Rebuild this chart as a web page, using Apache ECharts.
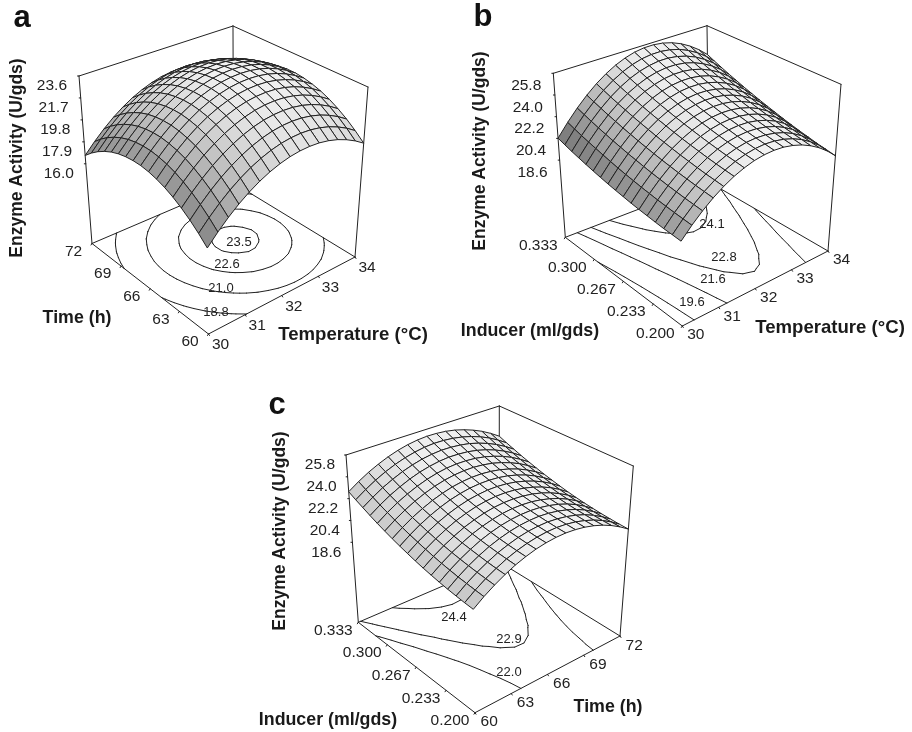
<!DOCTYPE html>
<html><head><meta charset="utf-8">
<style>html,body{margin:0;padding:0;background:#fff}#c{width:912px;height:732px}</style>
<script src="https://cdn.jsdelivr.net/npm/echarts@6/dist/echarts.min.js"></script>
</head><body><div id="c"></div>
<script>
// ---------- values ----------
const temperatureTicks = [30, 31, 32, 33, 34];
const timeTicks = [60, 63, 66, 69, 72];
const inducerTicks = [0.200, 0.233, 0.267, 0.300, 0.333];
const activityTicksA = [16.0, 17.9, 19.8, 21.7, 23.6];
const activityTicksBC = [18.6, 20.4, 22.2, 24.0, 25.8];
const contourLevelsA = [18.8, 21.0, 22.6, 23.5];
const contourLevelsB = [19.6, 21.6, 22.8, 24.1];
const contourLevelsC = [22.0, 22.9, 24.4];
// rows: time 60..72 (a), inducer 0.200..0.333 (b, c); columns: temperature 30..34 (a, b), time 60..72 (c)
const surfaceA = [
[15.93,16.81,17.60,18.30,18.90,19.41,19.82,20.14,20.37,20.50,20.54,20.49,20.34,20.10,19.76,19.33,18.81],
[16.62,17.50,18.29,18.99,19.59,20.10,20.51,20.83,21.06,21.19,21.23,21.18,21.03,20.79,20.45,20.02,19.50],
[17.23,18.11,18.90,19.60,20.20,20.71,21.12,21.44,21.67,21.80,21.84,21.79,21.64,21.40,21.06,20.63,20.11],
[17.75,18.63,19.42,20.12,20.72,21.23,21.64,21.96,22.19,22.32,22.36,22.31,22.16,21.92,21.58,21.15,20.63],
[18.19,19.07,19.86,20.56,21.16,21.67,22.08,22.40,22.63,22.76,22.80,22.75,22.60,22.36,22.02,21.59,21.07],
[18.54,19.42,20.21,20.91,21.51,22.02,22.43,22.75,22.98,23.11,23.15,23.10,22.95,22.71,22.37,21.94,21.42],
[18.80,19.68,20.47,21.17,21.77,22.28,22.69,23.01,23.24,23.37,23.41,23.36,23.21,22.97,22.63,22.20,21.68],
[18.98,19.86,20.65,21.35,21.95,22.46,22.87,23.19,23.42,23.55,23.59,23.54,23.39,23.15,22.81,22.38,21.86],
[19.08,19.96,20.75,21.45,22.05,22.56,22.97,23.29,23.52,23.65,23.69,23.64,23.49,23.25,22.91,22.48,21.96],
[19.08,19.96,20.75,21.45,22.05,22.56,22.97,23.29,23.52,23.65,23.69,23.64,23.49,23.25,22.91,22.48,21.96],
[19.00,19.88,20.67,21.37,21.97,22.48,22.89,23.21,23.44,23.57,23.61,23.56,23.41,23.17,22.83,22.40,21.88],
[18.84,19.72,20.51,21.21,21.81,22.32,22.73,23.05,23.28,23.41,23.45,23.40,23.25,23.01,22.67,22.24,21.72],
[18.59,19.47,20.26,20.96,21.56,22.07,22.48,22.80,23.03,23.16,23.20,23.15,23.00,22.76,22.42,21.99,21.47],
[18.25,19.13,19.92,20.62,21.22,21.73,22.14,22.46,22.69,22.82,22.86,22.81,22.66,22.42,22.08,21.65,21.13],
[17.83,18.71,19.50,20.20,20.80,21.31,21.72,22.04,22.27,22.40,22.44,22.39,22.24,22.00,21.66,21.23,20.71],
[17.32,18.20,18.99,19.69,20.29,20.80,21.21,21.53,21.76,21.89,21.93,21.88,21.73,21.49,21.15,20.72,20.20],
[16.72,17.60,18.39,19.09,19.69,20.20,20.61,20.93,21.16,21.29,21.33,21.28,21.13,20.89,20.55,20.12,19.60]];
// finer readings of panel a's floor, used for its small contour rings
const contourFieldA = [
[15.93,16.64,17.30,17.89,18.42,18.90,19.31,19.67,19.96,20.19,20.37,20.48,20.54,20.53,20.46,20.34,20.15,19.91,19.60,19.23,18.81],
[16.49,17.20,17.86,18.45,18.98,19.46,19.87,20.23,20.52,20.75,20.93,21.04,21.10,21.09,21.02,20.90,20.71,20.47,20.16,19.79,19.37],
[17.00,17.71,18.37,18.96,19.49,19.97,20.38,20.74,21.03,21.26,21.44,21.55,21.61,21.60,21.53,21.41,21.22,20.98,20.67,20.30,19.88],
[17.45,18.16,18.82,19.41,19.94,20.42,20.83,21.19,21.48,21.71,21.89,22.00,22.06,22.05,21.98,21.86,21.67,21.43,21.12,20.75,20.33],
[17.85,18.56,19.22,19.81,20.34,20.82,21.23,21.59,21.88,22.11,22.29,22.40,22.46,22.45,22.38,22.26,22.07,21.83,21.52,21.15,20.73],
[18.19,18.90,19.56,20.15,20.68,21.16,21.57,21.93,22.22,22.45,22.63,22.74,22.80,22.79,22.72,22.60,22.41,22.17,21.86,21.49,21.07],
[18.48,19.19,19.85,20.44,20.97,21.45,21.86,22.22,22.51,22.74,22.92,23.03,23.09,23.08,23.01,22.89,22.70,22.46,22.15,21.78,21.36],
[18.71,19.42,20.08,20.67,21.20,21.68,22.09,22.45,22.74,22.97,23.15,23.26,23.32,23.31,23.24,23.12,22.93,22.69,22.38,22.01,21.59],
[18.89,19.60,20.26,20.85,21.38,21.86,22.27,22.63,22.92,23.15,23.33,23.44,23.50,23.49,23.42,23.30,23.11,22.87,22.56,22.19,21.77],
[19.01,19.72,20.38,20.97,21.50,21.98,22.39,22.75,23.04,23.27,23.45,23.56,23.62,23.61,23.54,23.42,23.23,22.99,22.68,22.31,21.89],
[19.08,19.79,20.45,21.04,21.57,22.05,22.46,22.82,23.11,23.34,23.52,23.63,23.69,23.68,23.61,23.49,23.30,23.06,22.75,22.38,21.96],
[19.09,19.80,20.46,21.05,21.58,22.06,22.47,22.83,23.12,23.35,23.53,23.64,23.70,23.69,23.62,23.50,23.31,23.07,22.76,22.39,21.97],
[19.04,19.75,20.41,21.00,21.53,22.01,22.42,22.78,23.07,23.30,23.48,23.59,23.65,23.64,23.57,23.45,23.26,23.02,22.71,22.34,21.92],
[18.95,19.66,20.32,20.91,21.44,21.92,22.33,22.69,22.98,23.21,23.39,23.50,23.56,23.55,23.48,23.36,23.17,22.93,22.62,22.25,21.83],
[18.79,19.50,20.16,20.75,21.28,21.76,22.17,22.53,22.82,23.05,23.23,23.34,23.40,23.39,23.32,23.20,23.01,22.77,22.46,22.09,21.67],
[18.59,19.30,19.96,20.55,21.08,21.56,21.97,22.33,22.62,22.85,23.03,23.14,23.20,23.19,23.12,23.00,22.81,22.57,22.26,21.89,21.47],
[18.32,19.03,19.69,20.28,20.81,21.29,21.70,22.06,22.35,22.58,22.76,22.87,22.93,22.92,22.85,22.73,22.54,22.30,21.99,21.62,21.20],
[18.01,18.72,19.38,19.97,20.50,20.98,21.39,21.75,22.04,22.27,22.45,22.56,22.62,22.61,22.54,22.42,22.23,21.99,21.68,21.31,20.89],
[17.63,18.34,19.00,19.59,20.12,20.60,21.01,21.37,21.66,21.89,22.07,22.18,22.24,22.23,22.16,22.04,21.85,21.61,21.30,20.93,20.51],
[17.20,17.91,18.57,19.16,19.69,20.17,20.58,20.94,21.23,21.46,21.64,21.75,21.81,21.80,21.73,21.61,21.42,21.18,20.87,20.50,20.08],
[16.72,17.43,18.09,18.68,19.21,19.69,20.10,20.46,20.75,20.98,21.16,21.27,21.33,21.32,21.25,21.13,20.94,20.70,20.39,20.02,19.60]];
const surfaceB = [
[18.67,19.51,20.25,20.89,21.43,21.87,22.20,22.44,22.57,22.60,22.53,22.35,22.08,21.70,21.23,20.65,19.97],
[18.71,19.56,20.31,20.96,21.51,21.95,22.30,22.53,22.67,22.71,22.64,22.47,22.20,21.83,21.35,20.78,20.10],
[18.74,19.61,20.37,21.03,21.58,22.04,22.39,22.63,22.78,22.82,22.76,22.59,22.33,21.96,21.48,20.90,20.22],
[18.80,19.68,20.45,21.12,21.68,22.14,22.50,22.75,22.90,22.95,22.89,22.73,22.47,22.10,21.63,21.05,20.38],
[18.87,19.75,20.53,21.21,21.79,22.26,22.62,22.88,23.04,23.09,23.04,22.88,22.62,22.26,21.79,21.21,20.53],
[18.94,19.84,20.63,21.32,21.90,22.38,22.75,23.02,23.18,23.24,23.19,23.04,22.78,22.42,21.95,21.38,20.70],
[19.02,19.93,20.73,21.43,22.03,22.51,22.89,23.17,23.34,23.40,23.36,23.21,22.96,22.60,22.13,21.56,20.88],
[19.12,20.04,20.85,21.56,22.16,22.65,23.04,23.32,23.50,23.57,23.53,23.39,23.14,22.78,22.32,21.75,21.08],
[19.22,20.15,20.98,21.69,22.30,22.81,23.20,23.49,23.67,23.75,23.72,23.58,23.33,22.98,22.52,21.95,21.28],
[19.33,20.27,21.11,21.84,22.46,22.97,23.37,23.67,23.86,23.94,23.91,23.77,23.53,23.18,22.73,22.16,21.49],
[19.46,20.41,21.26,22.00,22.63,23.15,23.56,23.86,24.06,24.14,24.12,23.99,23.75,23.41,22.95,22.39,21.72],
[19.59,20.56,21.41,22.16,22.80,23.33,23.75,24.06,24.26,24.35,24.34,24.21,23.98,23.63,23.18,22.62,21.95],
[19.74,20.72,21.58,22.34,22.99,23.53,23.96,24.27,24.48,24.58,24.57,24.45,24.22,23.88,23.43,22.87,22.20],
[19.89,20.88,21.75,22.52,23.18,23.73,24.16,24.49,24.70,24.81,24.80,24.69,24.46,24.12,23.68,23.12,22.45],
[20.05,21.05,21.94,22.72,23.39,23.94,24.39,24.72,24.94,25.06,25.06,24.94,24.72,24.39,23.94,23.39,22.72],
[20.23,21.24,22.14,22.93,23.61,24.17,24.63,24.97,25.20,25.31,25.32,25.21,25.00,24.66,24.22,23.67,23.00],
[20.42,21.44,22.35,23.15,23.84,24.41,24.87,25.22,25.46,25.58,25.59,25.49,25.28,24.95,24.51,23.96,23.30]];
const surfaceC = [
[19.83,20.43,20.95,21.40,21.79,22.09,22.33,22.49,22.58,22.60,22.54,22.41,22.21,21.94,21.59,21.17,20.68],
[19.89,20.49,21.01,21.45,21.84,22.14,22.37,22.53,22.62,22.64,22.58,22.45,22.24,21.97,21.62,21.20,20.71],
[19.97,20.57,21.08,21.52,21.91,22.20,22.44,22.60,22.68,22.70,22.63,22.50,22.30,22.03,21.67,21.25,20.76],
[20.06,20.65,21.17,21.61,21.99,22.28,22.51,22.67,22.75,22.77,22.70,22.57,22.36,22.09,21.74,21.31,20.82],
[20.17,20.76,21.27,21.71,22.09,22.38,22.61,22.76,22.84,22.85,22.79,22.65,22.45,22.17,21.82,21.39,20.90],
[20.30,20.88,21.39,21.82,22.20,22.49,22.71,22.87,22.95,22.95,22.89,22.75,22.54,22.27,21.91,21.49,20.99],
[20.44,21.02,21.52,21.95,22.33,22.61,22.84,22.99,23.07,23.07,23.00,22.87,22.66,22.38,22.02,21.60,21.10],
[20.60,21.18,21.68,22.11,22.48,22.76,22.99,23.13,23.21,23.21,23.14,23.00,22.79,22.51,22.16,21.73,21.23],
[20.78,21.35,21.85,22.28,22.64,22.93,23.15,23.29,23.37,23.37,23.30,23.16,22.94,22.66,22.31,21.88,21.38],
[20.97,21.54,22.04,22.46,22.82,23.11,23.32,23.47,23.54,23.54,23.47,23.33,23.11,22.83,22.47,22.04,21.55],
[21.17,21.74,22.24,22.65,23.01,23.29,23.51,23.65,23.72,23.72,23.64,23.50,23.28,23.00,22.64,22.21,21.72],
[21.40,21.97,22.46,22.88,23.23,23.51,23.72,23.86,23.93,23.93,23.85,23.71,23.49,23.20,22.85,22.41,21.92],
[21.64,22.21,22.70,23.11,23.46,23.74,23.95,24.09,24.15,24.14,24.07,23.92,23.70,23.42,23.06,22.62,22.13],
[21.90,22.46,22.94,23.35,23.70,23.98,24.18,24.32,24.39,24.37,24.30,24.15,23.93,23.64,23.28,22.85,22.35],
[22.18,22.73,23.22,23.62,23.97,24.24,24.45,24.58,24.65,24.63,24.55,24.41,24.18,23.89,23.53,23.10,22.60],
[22.46,23.01,23.49,23.90,24.24,24.51,24.71,24.85,24.91,24.89,24.81,24.66,24.44,24.15,23.79,23.35,22.85],
[22.77,23.32,23.80,24.20,24.54,24.81,25.01,25.14,25.20,25.18,25.10,24.95,24.72,24.43,24.07,23.63,23.13]];

// ---------- layout of the three drawings (screen anchors of each box) ----------
const INK = '#222', FONT = '"Liberation Sans", Arial, sans-serif';
const panels = [
 { name:'a', surface:surfaceA, field:contourFieldA, levels:contourLevelsA, uTicks:temperatureTicks, vTicks:timeTicks, zTicks:activityTicksA,
   uDec:0, vDec:0, zFloor:9.1,
   floor:{F:[208.5,334],R:[355,257],B:[233.5,183],L:[92,243.5]}, top:{F:[206,151.4],R:[368,87],B:[233,26],L:[79,76]},
   uOff:[12,11], vOff:[-18.5,8], zOff:[-12,10],
   titles:[['Enzyme Activity (U/gds)',17,158,'v'],['Time (h)',77,318,'s'],['Temperature (°C)',353,335,'l']], letter:[22,18],
   notes:[['23.5',239,242],['22.6',227,264],['21.0',221,288],['18.8',216,312]] },
 { name:'b', surface:surfaceB, levels:contourLevelsB, uTicks:temperatureTicks, vTicks:inducerTicks, zTicks:activityTicksBC,
   uDec:0, vDec:3, zFloor:12.2,
   floor:{F:[682.3,326],R:[828,251],B:[709.2,182.2],L:[565.3,237.3]}, top:{F:[679.7,147.7],R:[841,84.3],B:[707,25.7],L:[553.3,73.3]},
   uOff:[13.5,9], vOff:[-27,8], zOff:[-12,12.5],
   titles:[['Enzyme Activity (U/gds)',480,151,'v'],['Inducer (ml/gds)',530,331,'s'],['Temperature (°C)',830,328,'l']], letter:[483,17],
   notes:[['24.1',712,224],['22.8',724,257],['21.6',713,279],['19.6',692,302]] },
 { name:'c', surface:surfaceC, levels:contourLevelsC, uTicks:timeTicks, vTicks:inducerTicks, zTicks:activityTicksBC,
   uDec:0, vDec:3, zFloor:12,
   floor:{F:[475,712.7],R:[620,636],B:[499.2,561.8],L:[358.3,622.3]}, top:{F:[472,530.5],R:[633.3,466],B:[499.3,406],L:[346,455]},
   uOff:[14.2,9.3], vOff:[-25,8.3], zOff:[-11,10],
   titles:[['Enzyme Activity (U/gds)',280,531,'v'],['Inducer (ml/gds)',328,720,'s'],['Time (h)',608,707,'s']], letter:[277,405],
   notes:[['24.4',454,617],['22.9',509,639],['22.0',509,672]] }
];
const TITLE_SIZE = {v:17.5, s:17.8, l:18.6};

// ---------- projection: unit square -> screen quad, with height between floor and top ----------
function quadMap(q){
  const [x0,y0]=q.F,[x1,y1]=q.R,[x2,y2]=q.B,[x3,y3]=q.L;
  const dx1=x1-x2,dx2=x3-x2,sx=x0-x1+x2-x3,dy1=y1-y2,dy2=y3-y2,sy=y0-y1+y2-y3;
  const den=dx1*dy2-dx2*dy1, g=(sx*dy2-dx2*sy)/den, h=(dx1*sy-sx*dy1)/den;
  const a=x1-x0+g*x1,b=x3-x0+h*x3,d=y1-y0+g*y1,e=y3-y0+h*y3;
  return (u,v)=>{const w=g*u+h*v+1;return [(a*u+b*v+x0)/w,(d*u+e*v+y0)/w];};
}
function makeProjector(p){
  const fm=quadMap(p.floor),tm=quadMap(p.top);
  const zMax=p.zTicks[p.zTicks.length-1];
  return (u,v,z)=>{const f=fm(u,v),t=tm(u,v),k=(z-p.zFloor)/(zMax-p.zFloor);
    return [f[0]+(t[0]-f[0])*k,f[1]+(t[1]-f[1])*k];};
}
function contourSegments(g,levels){
  const segs=[],n=g.length-1,m=g[0].length-1;
  levels.forEach(L=>{
    for(let j=0;j<n;j++)for(let i=0;i<m;i++){
      const c=[[i,j,g[j][i]],[i+1,j,g[j][i+1]],[i+1,j+1,g[j+1][i+1]],[i,j+1,g[j+1][i]]],pts=[];
      for(let k=0;k<4;k++){const A=c[k],B=c[(k+1)%4];
        if((A[2]<L)!==(B[2]<L)){const t=(L-A[2])/(B[2]-A[2]);pts.push([(A[0]+(B[0]-A[0])*t)/m,(A[1]+(B[1]-A[1])*t)/n]);}}
      if(pts.length===2)segs.push([pts[0],pts[1]]);
      if(pts.length===4){segs.push([pts[0],pts[1]]);segs.push([pts[2],pts[3]]);}
    }});
  return segs;
}
function shade(g,i,j){
  const n=g.length-1,m=g[0].length-1;
  const p=((g[j][i+1]+g[j+1][i+1])-(g[j][i]+g[j+1][i]))/2*m;
  const q=((g[j+1][i]+g[j+1][i+1])-(g[j][i]+g[j][i+1]))/2*n;
  let s=0.95-(p>0?0.0017:0.0005)*p*p-0.0005*q*q;
  s=Math.max(0.47,Math.min(0.96,s));
  const c=Math.round(s*255);return `rgb(${c},${c},${c})`;
}

// ---------- series ----------
const series=[],graphics=[],titles=[];
function lineSeries(name,segs,width,z){
  series.push({name,type:'custom',coordinateSystem:'cartesian2d',silent:true,z,
    data:segs.map((s,k)=>[k]),
    renderItem:(params,api)=>{const s=segs[api.value(0)],a=api.coord(s[0]),b=api.coord(s[1]);
      return {type:'line',shape:{x1:a[0],y1:a[1],x2:b[0],y2:b[1]},style:{stroke:INK,lineWidth:width,lineCap:'round'}};}});
}
const along=(A,B,t)=>[A[0]+(B[0]-A[0])*t,A[1]+(B[1]-A[1])*t];
panels.forEach((p,idx)=>{
  const P=makeProjector(p),g=p.surface,m=g[0].length-1,n=g.length-1,zMax=p.zTicks[p.zTicks.length-1],zf=p.zFloor;
  const uMin=p.uTicks[0],uSpan=p.uTicks[p.uTicks.length-1]-uMin,vMin=p.vTicks[0],vSpan=p.vTicks[p.vTicks.length-1]-vMin;
  const box=[
    [P(0,1,zf),P(0,0,zf)],[P(0,0,zf),P(1,0,zf)],[P(1,0,zf),P(1,1,zf)],[P(1,1,zf),P(0,1,zf)],
    [P(0,1,zf),P(0,1,zMax)],[P(1,0,zf),P(1,0,zMax)],[P(1,1,zf),P(1,1,zMax)],
    [P(0,1,zMax),P(1,1,zMax)],[P(1,1,zMax),P(1,0,zMax)]];
  const labels=[];
  p.zTicks.forEach(t=>{const a=P(0,1,t);box.push([a,[a[0]-1.5,a[1]]]);
    labels.push([t.toFixed(1),a[0]+p.zOff[0],a[1]+p.zOff[1],'right']);});
  p.uTicks.forEach(t=>{const a=along(p.floor.F,p.floor.R,(t-uMin)/uSpan);box.push([a,[a[0]+1,a[1]+1.5]]);
    labels.push([t.toFixed(p.uDec),a[0]+p.uOff[0],a[1]+p.uOff[1],'center']);});
  p.vTicks.forEach(t=>{const a=along(p.floor.F,p.floor.L,(t-vMin)/vSpan);box.push([a,[a[0]-1,a[1]+1.5]]);
    labels.push([t.toFixed(p.vDec),a[0]+p.vOff[0],a[1]+p.vOff[1],'center']);});
  lineSeries(p.name+' box',box,1,2+idx);
  lineSeries(p.name+' contours',contourSegments(p.field||g,p.levels).map(s=>[P(s[0][0],s[0][1],zf),P(s[1][0],s[1][1],zf)]),1,2+idx);
  const cells=[];
  for(let j=0;j<n;j++)for(let i=0;i<m;i++)cells.push([i,j]);
  cells.sort((a,b)=>(b[0]+b[1])-(a[0]+a[1]));
  series.push({name:p.name+' surface',type:'custom',coordinateSystem:'cartesian2d',silent:true,z:3+idx,
    data:cells,
    renderItem:(params,api)=>{const i=api.value(0),j=api.value(1);
      const pts=[[i,j],[i+1,j],[i+1,j+1],[i,j+1]].map(c=>api.coord(P(c[0]/m,c[1]/n,g[c[1]][c[0]])));
      return {type:'polygon',shape:{points:pts},style:{fill:shade(g,i,j),stroke:'#222',lineWidth:1,lineJoin:'round'}};}});
  series.push({name:p.name+' ticks',type:'custom',coordinateSystem:'cartesian2d',silent:true,z:9,
    data:labels.map((l,k)=>[k]),
    renderItem:(params,api)=>{const l=labels[api.value(0)],a=api.coord([l[1],l[2]]);
      return {type:'text',x:a[0],y:a[1],style:{text:l[0],fontFamily:FONT,fontSize:15.5,fill:INK,align:l[3],verticalAlign:'middle'}};}});
  p.titles.forEach(t=>graphics.push({type:'text',x:t[1],y:t[2],rotation:t[3]==='v'?Math.PI/2:0,z:20,
    style:{text:t[0],fontFamily:FONT,fontWeight:'bold',fontSize:TITLE_SIZE[t[3]],fill:'#1a1a1a',align:'center',verticalAlign:'middle'}}));
  p.notes.forEach(t=>graphics.push({type:'text',x:t[1],y:t[2],z:20,
    style:{text:t[0],fontFamily:FONT,fontSize:13,fill:INK,align:'center',verticalAlign:'middle'}}));
  titles.push({text:p.name,left:p.letter[0],top:p.letter[1],textAlign:'center',textVerticalAlign:'middle',
    textStyle:{fontFamily:FONT,fontWeight:'bold',fontSize:31,color:'#111'},padding:0});
});

const chart=echarts.init(document.getElementById('c'),null,{renderer:'canvas'});
chart.setOption({
  animation:false,backgroundColor:'#fff',title:titles,tooltip:{show:false},
  grid:{left:0,right:0,top:0,bottom:0},
  xAxis:{type:'value',min:0,max:912,show:false},
  yAxis:{type:'value',min:0,max:732,inverse:true,show:false},
  graphic:graphics,series
});
</script></body></html>
